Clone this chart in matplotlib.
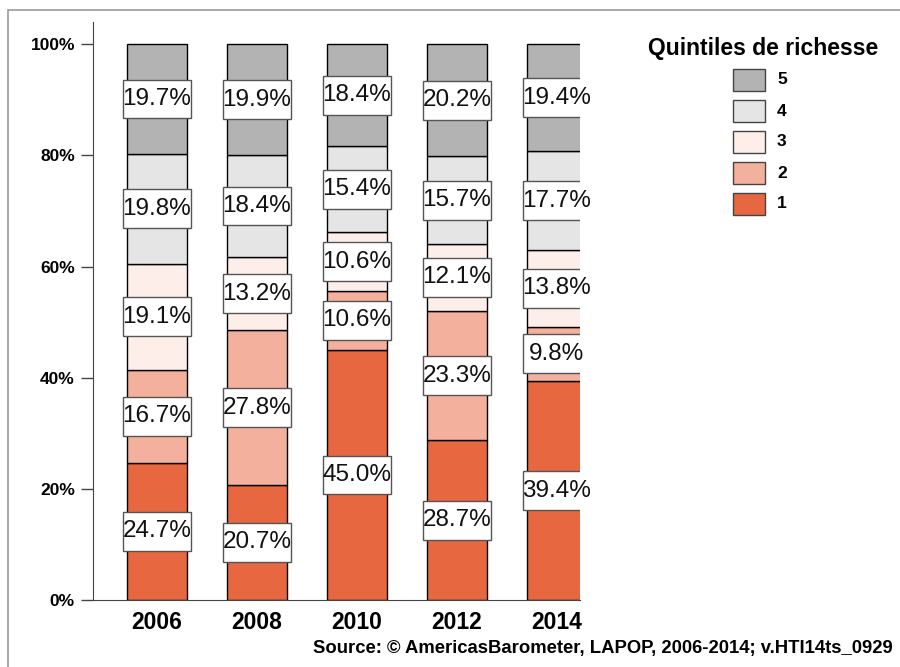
import matplotlib
matplotlib.use("Agg")
import matplotlib.pyplot as plt
from matplotlib.patches import Rectangle

plt.rcParams['font.family'] = ['Liberation Sans', 'DejaVu Sans']

years = ['2006', '2008', '2010', '2012', '2014']
quintiles = ['1', '2', '3', '4', '5']
q1 = [24.7, 20.7, 45.0, 28.7, 39.4]
q2 = [16.7, 27.8, 10.6, 23.3, 9.8]
q3 = [19.1, 13.2, 10.6, 12.1, 13.8]
q4 = [19.8, 18.4, 15.4, 15.7, 17.7]
q5 = [19.7, 19.9, 18.4, 20.2, 19.4]
series = [q1, q2, q3, q4, q5]
colors = ['#E66740', '#F3B19D', '#FDEEEA', '#E5E5E5', '#B3B3B3']

fig = plt.figure(figsize=(9, 6.67), dpi=100)
ax = fig.add_axes([93/900, 67/667, (580-93)/900, (645-67)/667])

x = list(range(len(years)))
bottoms = [0]*len(years)
for vals, col in zip(series, colors):
    ax.bar(x, vals, bottom=bottoms, width=0.6, color=col, edgecolor='black', linewidth=1, zorder=2)
    for i in x:
        mid = bottoms[i] + vals[i]/2
        ax.add_patch(Rectangle((i-0.34, mid-3.5), 0.68, 7.0, facecolor='white',
                               edgecolor='#555555', linewidth=1, zorder=3))
        ax.text(i, mid, '%.1f%%' % vals[i], ha='center', va='center', fontsize=17.5,
                color='#111111', zorder=4)
    bottoms = [b+v for b, v in zip(bottoms, vals)]

ax.set_xlim(-0.64, 4.23)
ax.set_ylim(0, 104)
ax.set_yticks([0, 20, 40, 60, 80, 100])
ax.set_yticklabels(['0%', '20%', '40%', '60%', '80%', '100%'], fontsize=12.5, fontweight='bold')
ax.set_xticks(x)
ax.set_xticklabels(years, fontsize=16.5, fontweight='bold')
ax.tick_params(axis='x', length=0, pad=8)
ax.tick_params(axis='y', length=9, width=1, color='#444444', pad=4)
for s in ['top', 'right']:
    ax.spines[s].set_visible(False)
ax.spines['left'].set_color('#444444')
ax.spines['bottom'].set_color('#444444')

# legend
fig.text(763/900, 1-48/667, 'Quintiles de richesse', ha='center', va='center',
         fontsize=16.5, fontweight='bold')
for k in range(len(quintiles)):
    j = len(quintiles)-1-k
    top = 69 + 31*k
    fig.patches.append(Rectangle((733/900, 1-(top+22)/667), 32/900, 22/667,
                                 transform=fig.transFigure, facecolor=colors[j],
                                 edgecolor='#444444', linewidth=1))
    fig.text(777/900, 1-(top+11)/667, quintiles[j], ha='left', va='center',
             fontsize=12.5, fontweight='bold')

fig.text(893/900, 1-648/667, 'Source: \u00a9 AmericasBarometer, LAPOP, 2006-2014; v.HTI14ts_0929',
         ha='right', va='center', fontsize=13.3, fontweight='bold')

# outer frame
fig.patches.append(Rectangle((8/900, -0.01), 1.0, 1-10/667+0.01, transform=fig.transFigure,
                             fill=False, edgecolor='#999999', linewidth=1.2))

fig.savefig('out.png', dpi=100)
